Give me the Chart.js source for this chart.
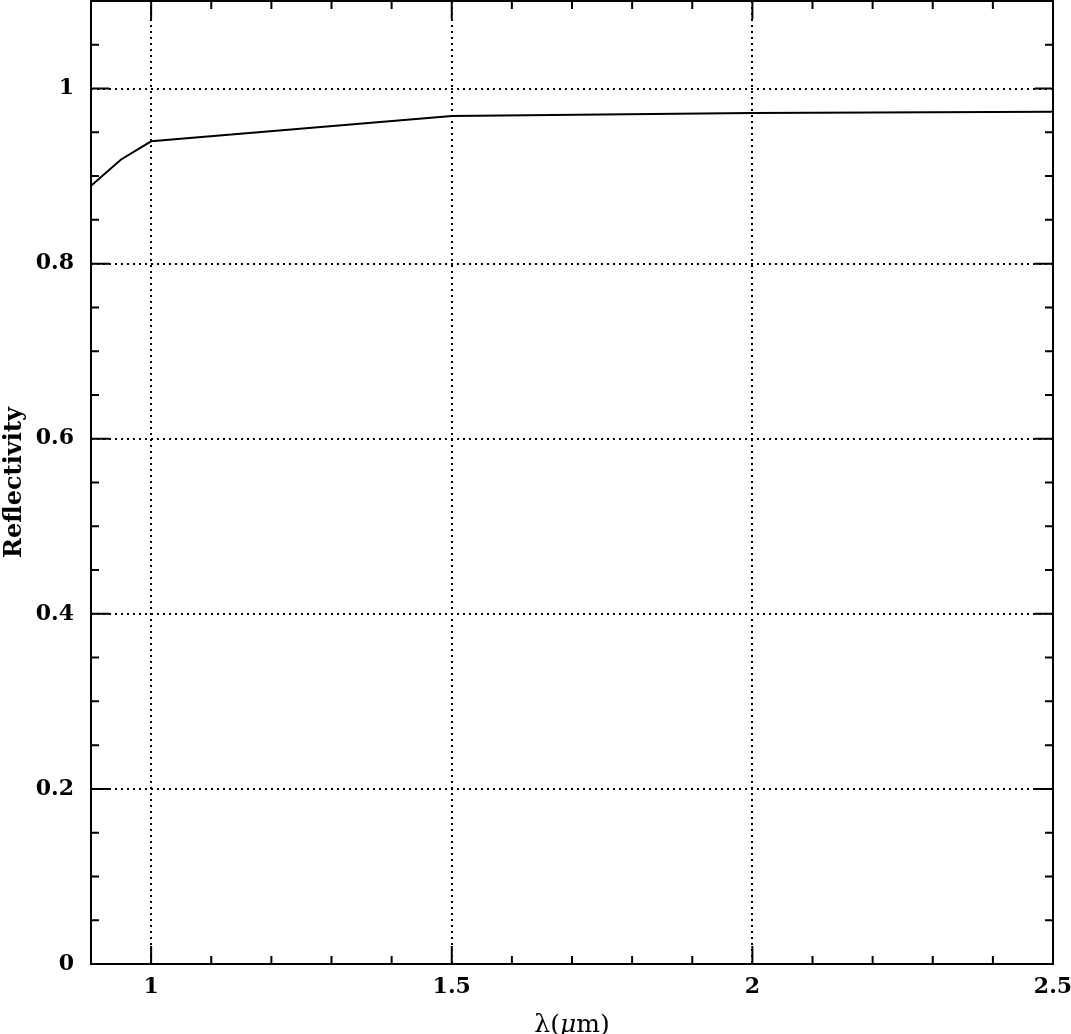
<!DOCTYPE html>
<html>
<head>
<meta charset="utf-8">
<script src="https://cdn.jsdelivr.net/npm/chart.js@4/dist/chart.umd.min.js"></script>
<style>
    html, body { margin: 0; padding: 0; background: #fff; }
    #wrap { width: 1071px; height: 1034px; }
</style>
</head>
<body>
<div id="wrap"><canvas id="chart" width="1071" height="1034"></canvas></div>
<script>
// wavelength (micron) and reflectivity
const wavelength = [0.9, 0.95, 1.0, 1.5, 2.0, 2.5];
const reflectivity = [0.889, 0.919, 0.9397, 0.9686, 0.9722, 0.9735];

const xTicks = [1, 1.5, 2, 2.5];
const yTicks = [0, 0.2, 0.4, 0.6, 0.8, 1];
const xRange = [0.9, 2.5];
const yRange = [0, 1.1];

const tickFont = { family: "'DejaVu Serif'", size: 22, weight: 'bold' };

// frame, inward ticks on all four sides, axis titles
const framePlugin = {
    id: 'frame',
    afterDraw(chart) {
        const ctx = chart.ctx;
        const a = chart.chartArea;
        const xs = chart.scales.x;
        const ys = chart.scales.y;
        ctx.save();
        ctx.strokeStyle = '#000';
        ctx.lineWidth = 2;
        ctx.strokeRect(a.left, a.top, a.right - a.left, a.bottom - a.top);

        ctx.beginPath();
        for (let i = 9; i <= 25; i++) {
            const v = i / 10;
            const px = xs.getPixelForValue(v);
            const len = (i % 5 === 0) ? 18 : 8;
            ctx.moveTo(px, a.bottom); ctx.lineTo(px, a.bottom - len);
            ctx.moveTo(px, a.top); ctx.lineTo(px, a.top + len);
        }
        for (let i = 0; i <= 22; i++) {
            const v = i / 20;
            const py = ys.getPixelForValue(v);
            const len = (i % 4 === 0) ? 18 : 8;
            ctx.moveTo(a.left, py); ctx.lineTo(a.left + len, py);
            ctx.moveTo(a.right, py); ctx.lineTo(a.right - len, py);
        }
        ctx.stroke();

        // y title
        ctx.fillStyle = '#000';
        ctx.save();
        ctx.translate(21, (a.top + a.bottom) / 2);
        ctx.rotate(-Math.PI / 2);
        ctx.font = "bold 24px 'DejaVu Serif'";
        ctx.textAlign = 'center';
        ctx.textBaseline = 'alphabetic';
        ctx.fillText('Reflectivity', 0, 0);
        ctx.restore();

        // x title: λ(μm) with italic mu
        const parts = [
            { t: 'λ(', f: "25px 'DejaVu Serif'" },
            { t: 'μ', f: "italic 25px 'DejaVu Serif'" },
            { t: 'm)', f: "25px 'DejaVu Serif'" }
        ];
        let total = 0;
        parts.forEach(p => { ctx.font = p.f; p.w = ctx.measureText(p.t).width; total += p.w; });
        let x = (a.left + a.right) / 2 - total / 2;
        ctx.textAlign = 'left';
        ctx.textBaseline = 'alphabetic';
        parts.forEach(p => { ctx.font = p.f; ctx.fillText(p.t, x, 1032); x += p.w; });
        ctx.restore();
    }
};

new Chart(document.getElementById('chart'), {
    type: 'line',
    data: {
        datasets: [{
            data: wavelength.map((w, i) => ({ x: w, y: reflectivity[i] })),
            borderColor: '#000',
            borderWidth: 2,
            pointRadius: 0,
            tension: 0,
            fill: false
        }]
    },
    options: {
        responsive: false,
        animation: false,
        layout: { padding: { top: 1, right: 18, left: 0, bottom: 0 } },
        plugins: { legend: { display: false }, tooltip: { enabled: false } },
        scales: {
            x: {
                type: 'linear',
                min: xRange[0],
                max: xRange[1],
                afterBuildTicks: s => { s.ticks = xTicks.map(v => ({ value: v })); },
                afterFit: s => { s.height = 70; s.paddingLeft = 0; s.paddingRight = 0; },
                grid: { color: '#000', lineWidth: 2, drawTicks: false },
                border: { display: false, dash: [2, 4] },
                ticks: {
                    color: '#000',
                    font: tickFont,
                    padding: 10,
                    maxRotation: 0,
                    callback: v => String(v)
                }
            },
            y: {
                type: 'linear',
                min: yRange[0],
                max: yRange[1],
                afterBuildTicks: s => { s.ticks = yTicks.map(v => ({ value: v })); },
                afterFit: s => { s.width = 91; s.paddingTop = 0; s.paddingBottom = 0; },
                grid: { color: '#000', lineWidth: 2, drawTicks: false },
                border: { display: false, dash: [2, 4] },
                ticks: {
                    color: '#000',
                    font: tickFont,
                    padding: 17,
                    callback: v => String(v)
                }
            }
        }
    },
    plugins: [framePlugin]
});
</script>
</body>
</html>
